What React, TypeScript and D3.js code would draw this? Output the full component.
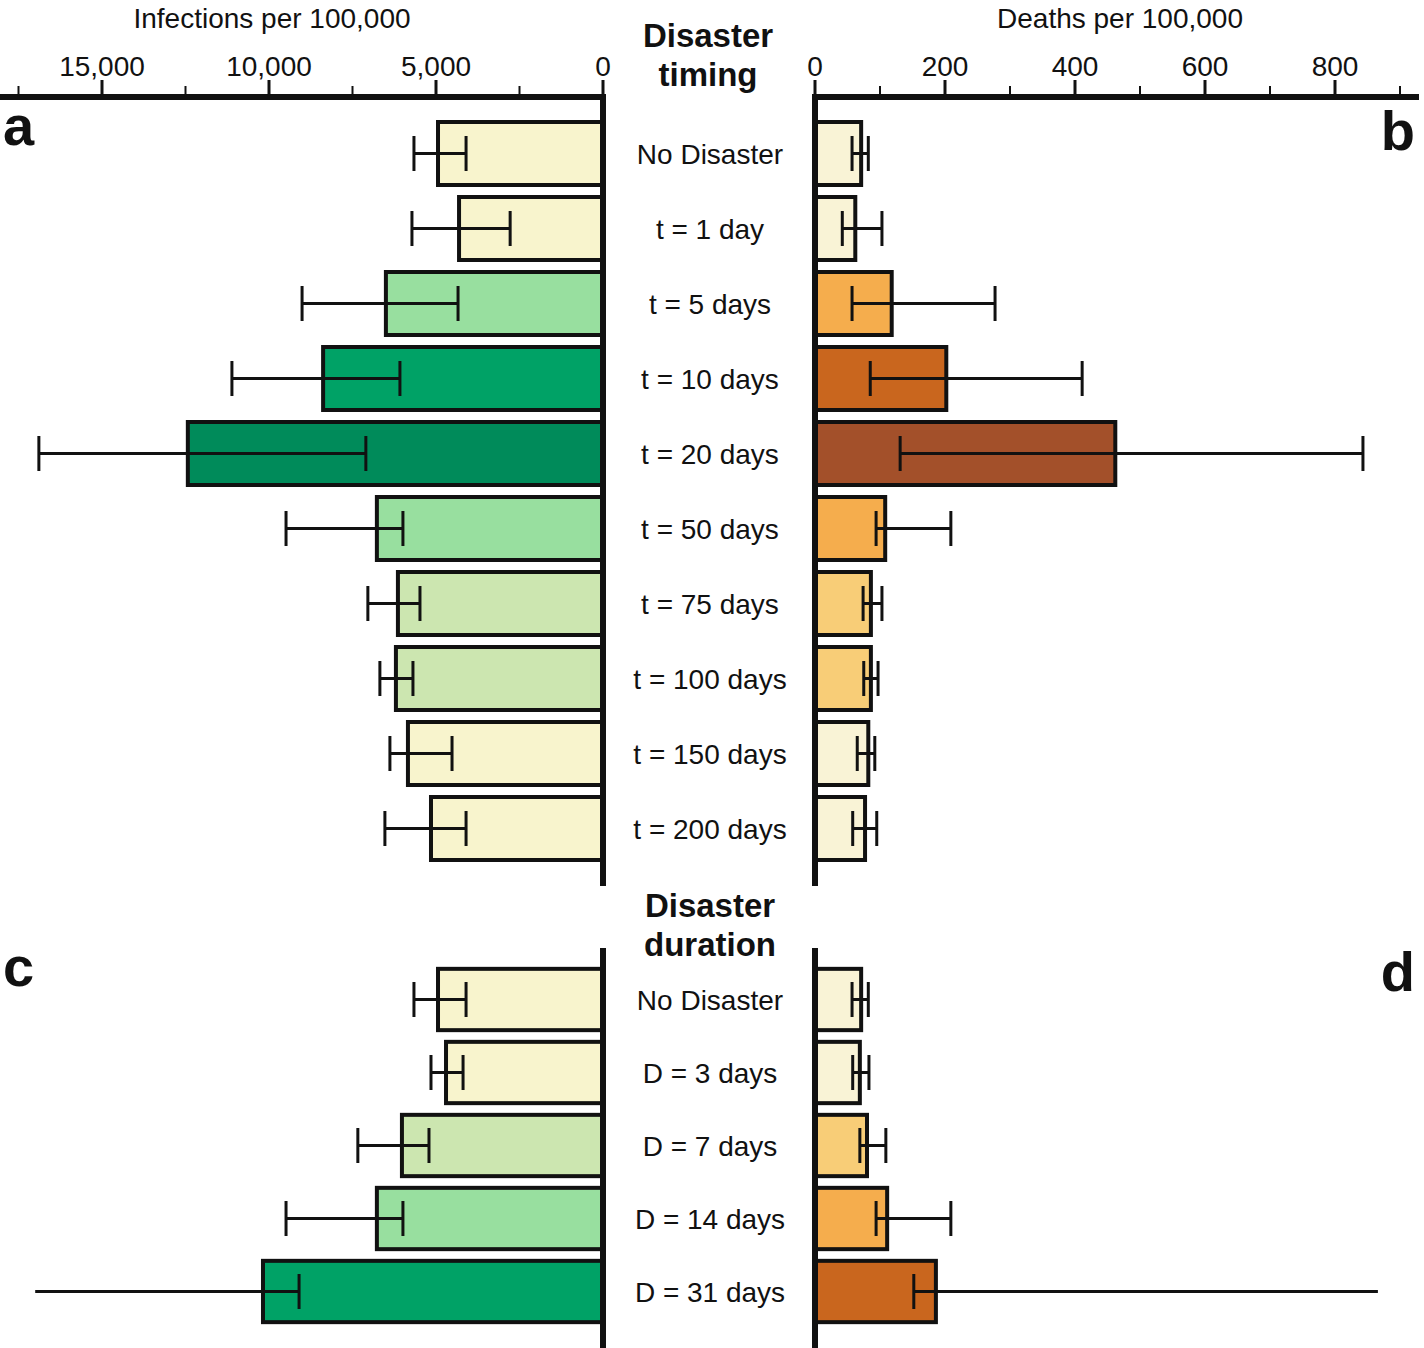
import React from "react";
import * as d3 from "d3";

// ---------- Data ----------
const timingLabels = ["No Disaster", "t = 1 day", "t = 5 days", "t = 10 days", "t = 20 days", "t = 50 days", "t = 75 days", "t = 100 days", "t = 150 days", "t = 200 days"];
const timingLevel = [0, 0, 2, 3, 4, 2, 1, 1, 0, 0];
const timingInf = [4940, 4310, 6500, 8380, 12430, 6770, 6140, 6200, 5840, 5150];
const timingInfLo = [4100, 2780, 4340, 6080, 7100, 5990, 5480, 5690, 4520, 4100];
const timingInfHi = [5660, 5720, 9010, 11110, 16890, 9490, 7040, 6680, 6380, 6530];
const timingDeaths = [71, 62, 118, 202, 462, 108, 86, 86, 82, 77];
const timingDeathsLo = [57, 42, 57, 85, 131, 94, 74, 75, 65, 58];
const timingDeathsHi = [82, 103, 277, 411, 843, 209, 103, 97, 92, 95];

const durationLabels = ["No Disaster", "D = 3 days", "D = 7 days", "D = 14 days", "D = 31 days"];
const durationLevel = [0, 0, 1, 2, 3];
const durationInf = [4940, 4700, 6020, 6770, 10180];
const durationInfLo = [4100, 4190, 5210, 5990, 9100];
const durationInfHi = [5660, 5150, 7340, 9490, 17000];
const durationInfOuterCap = [true, true, true, true, false];
const durationDeaths = [71, 69, 80, 111, 186];
const durationDeathsLo = [57, 58, 69, 94, 152];
const durationDeathsHi = [82, 83, 109, 209, 866];
const durationDeathsOuterCap = [true, true, true, true, false];

const infMajorTicks = [0, 5000, 10000, 15000];
const infMinorTicks = [2500, 7500, 12500, 17500];
const deathMajorTicks = [0, 200, 400, 600, 800];
const deathMinorTicks = [100, 300, 500, 700, 900];

// ---------- Styles ----------
const greens = ["#f8f4cd", "#cce6b0", "#98df9f", "#00a266", "#008b5a"];
const oranges = ["#f9f3d6", "#f8cd77", "#f5ad4d", "#c9661e", "#a3502a"];
const FONT = "'Liberation Sans', Arial, Helvetica, sans-serif";
const INK = "#111";

const W = 1424;
const H = 1348;
const LX0 = 603;
const RX0 = 815;
const AXIS_Y = 97;

const xL = d3.scaleLinear().domain([0, 18000]).range([LX0, LX0 - 18000 * 0.0334]);
const xR = d3.scaleLinear().domain([0, 930]).range([RX0, RX0 + 930 * 0.65]);

const fmt = d3.format(",");

type Panel = {
  labels: string[];
  level: number[];
  inf: number[];
  infLo: number[];
  infHi: number[];
  infCap: boolean[];
  deaths: number[];
  dLo: number[];
  dHi: number[];
  dCap: boolean[];
  range: [number, number];
};

function PanelRows({ p }: { p: Panel }) {
  const y = d3.scaleBand<string>().domain(p.labels).range(p.range).paddingInner(0.16).paddingOuter(0.08);
  const bw = y.bandwidth();
  const cap = 35;
  return (
    <g>
      {p.labels.map((lab, i) => {
        const y0 = y(lab)!;
        const cy = y0 + bw / 2;
        const xl = xL(p.inf[i]);
        const xr = xR(p.deaths[i]);
        return (
          <g key={lab}>
            {/* left bar */}
            <rect x={xl} y={y0} width={LX0 - xl} height={bw} fill={greens[p.level[i]]} stroke={INK} strokeWidth={4} />
            <line x1={xL(p.infHi[i])} x2={xL(p.infLo[i])} y1={cy} y2={cy} stroke={INK} strokeWidth={3} />
            <line x1={xL(p.infLo[i])} x2={xL(p.infLo[i])} y1={cy - cap / 2} y2={cy + cap / 2} stroke={INK} strokeWidth={3} />
            {p.infCap[i] && (
              <line x1={xL(p.infHi[i])} x2={xL(p.infHi[i])} y1={cy - cap / 2} y2={cy + cap / 2} stroke={INK} strokeWidth={3} />
            )}
            {/* right bar */}
            <rect x={RX0} y={y0} width={xr - RX0} height={bw} fill={oranges[p.level[i]]} stroke={INK} strokeWidth={4} />
            <line x1={xR(p.dLo[i])} x2={xR(p.dHi[i])} y1={cy} y2={cy} stroke={INK} strokeWidth={3} />
            <line x1={xR(p.dLo[i])} x2={xR(p.dLo[i])} y1={cy - cap / 2} y2={cy + cap / 2} stroke={INK} strokeWidth={3} />
            {p.dCap[i] && (
              <line x1={xR(p.dHi[i])} x2={xR(p.dHi[i])} y1={cy - cap / 2} y2={cy + cap / 2} stroke={INK} strokeWidth={3} />
            )}
            <text x={710} y={cy} dy="0.36em" textAnchor="middle" fontFamily={FONT} fontSize={28} fill={INK}>
              {lab}
            </text>
          </g>
        );
      })}
    </g>
  );
}

export default function App() {
  const top: Panel = {
    labels: timingLabels,
    level: timingLevel,
    inf: timingInf,
    infLo: timingInfLo,
    infHi: timingInfHi,
    infCap: timingLabels.map(() => true),
    deaths: timingDeaths,
    dLo: timingDeathsLo,
    dHi: timingDeathsHi,
    dCap: timingLabels.map(() => true),
    range: [116, 866],
  };
  const bottom: Panel = {
    labels: durationLabels,
    level: durationLevel,
    inf: durationInf,
    infLo: durationInfLo,
    infHi: durationInfHi,
    infCap: durationInfOuterCap,
    deaths: durationDeaths,
    dLo: durationDeathsLo,
    dHi: durationDeathsHi,
    dCap: durationDeathsOuterCap,
    range: [963, 1328],
  };
  return (
    <svg width={W} height={H} style={{ position: "absolute", left: 0, top: 0, background: "#fff" }}>
      <rect width={W} height={H} fill="#fff" />
      <PanelRows p={top} />
      <PanelRows p={bottom} />

      {/* left axis */}
      <line x1={0} x2={LX0 + 3} y1={AXIS_Y} y2={AXIS_Y} stroke={INK} strokeWidth={6} />
      {infMajorTicks.map((t) => (
        <g key={t}>
          <line x1={xL(t)} x2={xL(t)} y1={AXIS_Y} y2={AXIS_Y - 17} stroke={INK} strokeWidth={3} />
          <text x={xL(t)} y={AXIS_Y - 21} textAnchor="middle" fontFamily={FONT} fontSize={28} fill={INK}>
            {fmt(t)}
          </text>
        </g>
      ))}
      {infMinorTicks.map((t) => (
        <line key={t} x1={xL(t)} x2={xL(t)} y1={AXIS_Y} y2={AXIS_Y - 11} stroke={INK} strokeWidth={2} />
      ))}
      <text x={272} y={28} textAnchor="middle" fontFamily={FONT} fontSize={28} fill={INK}>
        Infections per 100,000
      </text>

      {/* right axis */}
      <line x1={RX0 - 3} x2={1419} y1={AXIS_Y} y2={AXIS_Y} stroke={INK} strokeWidth={6} />
      {deathMajorTicks.map((t) => (
        <g key={t}>
          <line x1={xR(t)} x2={xR(t)} y1={AXIS_Y} y2={AXIS_Y - 17} stroke={INK} strokeWidth={3} />
          <text x={xR(t)} y={AXIS_Y - 21} textAnchor="middle" fontFamily={FONT} fontSize={28} fill={INK}>
            {fmt(t)}
          </text>
        </g>
      ))}
      {deathMinorTicks.map((t) => (
        <line key={t} x1={xR(t)} x2={xR(t)} y1={AXIS_Y} y2={AXIS_Y - 11} stroke={INK} strokeWidth={2} />
      ))}
      <text x={1120} y={28} textAnchor="middle" fontFamily={FONT} fontSize={28} fill={INK}>
        Deaths per 100,000
      </text>

      {/* vertical baselines */}
      <line x1={LX0} x2={LX0} y1={AXIS_Y} y2={886} stroke={INK} strokeWidth={6} />
      <line x1={RX0} x2={RX0} y1={AXIS_Y} y2={886} stroke={INK} strokeWidth={6} />
      <line x1={LX0} x2={LX0} y1={948} y2={H} stroke={INK} strokeWidth={6} />
      <line x1={RX0} x2={RX0} y1={948} y2={H} stroke={INK} strokeWidth={6} />

      {/* center titles */}
      <text x={708} y={47} textAnchor="middle" fontFamily={FONT} fontSize={33} fontWeight="bold" fill={INK}>
        Disaster
      </text>
      <text x={708} y={86} textAnchor="middle" fontFamily={FONT} fontSize={33} fontWeight="bold" fill={INK}>
        timing
      </text>
      <text x={710} y={917} textAnchor="middle" fontFamily={FONT} fontSize={33} fontWeight="bold" fill={INK}>
        Disaster
      </text>
      <text x={710} y={956} textAnchor="middle" fontFamily={FONT} fontSize={33} fontWeight="bold" fill={INK}>
        duration
      </text>

      {/* panel letters */}
      {[
        ["a", 3, 145, "start"],
        ["b", 1415, 150, "end"],
        ["c", 3, 986, "start"],
        ["d", 1415, 991, "end"],
      ].map(([l, x, yy, anchor]) => (
        <text key={l as string} x={x as number} y={yy as number} textAnchor={anchor as any} fontFamily={FONT} fontSize={56} fontWeight="bold" fill={INK}>
          {l}
        </text>
      ))}
    </svg>
  );
}
